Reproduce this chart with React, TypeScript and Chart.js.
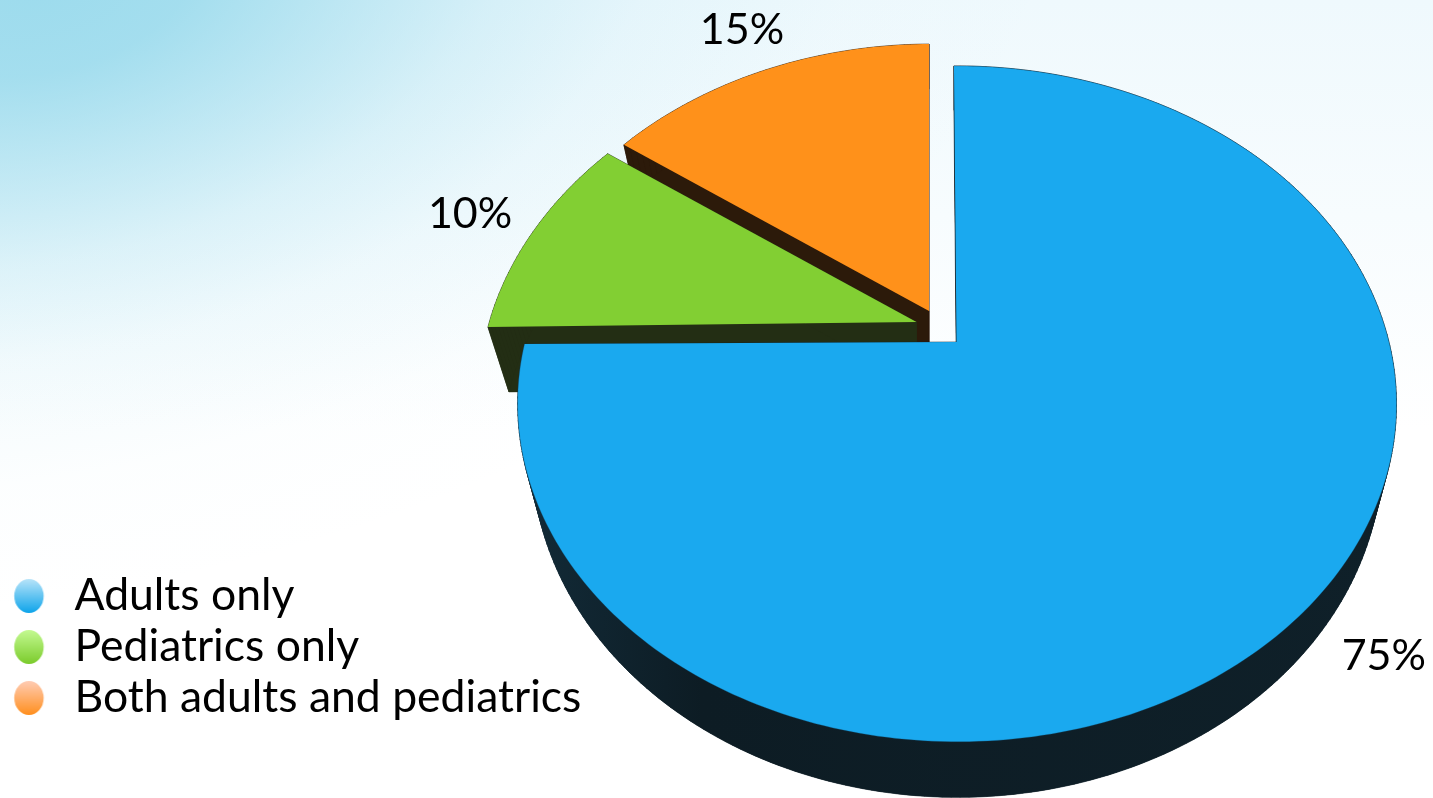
import React, { useEffect, useRef } from "react";
import { Chart, registerables } from "chart.js";

Chart.register(...registerables);

const categories = ["Adults only", "Pediatrics only", "Both adults and pediatrics"];
const shares = [75, 10, 15];
const topColors = ["#1aa9ef", "#82cf33", "#ff911a"];
const wallColors = ["#0e1f28", "#232e14", "#2c1a0a"];
const glossColors = [["#b8e4f9", "#0ea4ea"], ["#c4fa92", "#7bcb2c"], ["#ffccb4", "#ff8f1e"]];

// exploded slices: image-space shift, foreshortening, shear and wall depth
const sliceShiftX = [0, -40, -27.5];
const sliceShiftY = [0, -20, -31];
const sliceScale = [1, 0.992, 0.967];
const sliceLowScale = [1, 0.975, 0.965];
const sliceSkew = [0, 11, 3];
const sliceTilt = [0, -3, 0];
const sliceDepth = [49, 65, 49];
const labelNudgeX = [74, -63, -24];
const labelNudgeY = [50, -18, -40];

// projective view of the pie's top face and of its lower face
const FONT = "Lato";
const top = { ax: 956.5, ay: 342, rx: 432, ry: 326.6, skew: -3, tilt: -2, k: 0.183 };
const low = { ax: 956.5, ay: 0, rx: 418, ry: 332, skew: -3, tilt: -2, k: 0.183 };

type P = [number, number];

function project(plane: typeof top, dx: number, dy: number, ay: number, skew = 0, tilt = 0): P {
  const w = 1 + plane.k * dy;
  return [
    plane.ax + (plane.rx * dx + (plane.skew + skew) * dy) / w,
    ay + ((plane.tilt + tilt) * dx - plane.ry * dy) / w,
  ];
}

function outline(start: number, end: number): P[] {
  const pts: P[] = [[0, 0]];
  const n = Math.max(8, Math.ceil(((end - start) / (2 * Math.PI)) * 360));
  for (let i = 0; i <= n; i++) {
    const a = start + ((end - start) * i) / n;
    pts.push([Math.cos(a), -Math.sin(a)]);
  }
  return pts;
}

function trace(ctx: CanvasRenderingContext2D, pts: P[]) {
  ctx.beginPath();
  pts.forEach((p, i) => (i ? ctx.lineTo(p[0], p[1]) : ctx.moveTo(p[0], p[1])));
  ctx.closePath();
}

function topPoint(i: number, d: P): P {
  const p = project(top, d[0], d[1], top.ay, sliceSkew[i], sliceTilt[i]);
  return [
    top.ax + (p[0] - top.ax) * sliceScale[i] + sliceShiftX[i],
    top.ay + (p[1] - top.ay) * sliceScale[i] + sliceShiftY[i],
  ];
}

function lowPoint(i: number, d: P): P {
  const p = project(low, d[0], d[1], 0, sliceSkew[i], sliceTilt[i]);
  return [
    low.ax + (p[0] - low.ax) * sliceLowScale[i] + sliceShiftX[i],
    p[1] * sliceLowScale[i] + top.ay + sliceShiftY[i] + sliceDepth[i],
  ];
}

function gloss(colors: string[]) {
  const c = document.createElement("canvas");
  c.width = 46;
  c.height = 34;
  const g = c.getContext("2d")!;
  const grad = g.createLinearGradient(0, 0, 0, 34);
  grad.addColorStop(0, colors[0]);
  grad.addColorStop(1, colors[1]);
  g.fillStyle = grad;
  g.beginPath();
  g.ellipse(22.6, 17, 14.7, 17, 0, 0, Math.PI * 2);
  g.fill();
  return c;
}

const backdrop = {
  id: "backdrop",
  beforeDraw(chart: Chart) {
    const { ctx, width, height } = chart;
    ctx.save();
    const base = ctx.createLinearGradient(0, 0, 0, 430);
    base.addColorStop(0, "#eff9fd");
    base.addColorStop(1, "#ffffff");
    ctx.fillStyle = base;
    ctx.fillRect(0, 0, width, height);
    ctx.translate(40, -20);
    ctx.rotate(-0.2);
    ctx.scale(1050, 620);
    const g = ctx.createRadialGradient(0, 0, 0, 0, 0, 1);
    g.addColorStop(0, "rgba(142,214,234,0.85)");
    g.addColorStop(0.15, "rgba(142,214,234,0.78)");
    g.addColorStop(0.3, "rgba(142,214,234,0.52)");
    g.addColorStop(0.45, "rgba(142,214,234,0.27)");
    g.addColorStop(0.6, "rgba(142,214,234,0.11)");
    g.addColorStop(0.8, "rgba(142,214,234,0.025)");
    g.addColorStop(1, "rgba(142,214,234,0)");
    ctx.fillStyle = g;
    ctx.fillRect(-3, -3, 6, 6);
    ctx.restore();
  },
};

const pie3d = {
  id: "pie3d",
  beforeDatasetsDraw(chart: Chart) {
    const { ctx } = chart;
    const arcs = chart.getDatasetMeta(0).data as any[];
    ctx.save();
    [2, 1, 0].forEach((i) => {
      const shape = outline(arcs[i].startAngle, arcs[i].endAngle);
      const upper = shape.map((d) => topPoint(i, d));
      const lower = shape.map((d) => lowPoint(i, d));
      let wall: string | CanvasGradient = wallColors[i];
      if (i === 0) {
        const g = ctx.createLinearGradient(530, 0, 1390, 0);
        g.addColorStop(0, "#122a37");
        g.addColorStop(0.2, "#0d1c24");
        g.addColorStop(1, "#0f2029");
        wall = g;
      }
      ctx.fillStyle = wall;
      ctx.strokeStyle = wall;
      ctx.lineWidth = 0.6;
      trace(ctx, lower);
      ctx.fill();
      upper.forEach((p, j) => {
        const n = (j + 1) % upper.length;
        trace(ctx, [p, upper[n], lower[n], lower[j]]);
        ctx.fill();
        ctx.stroke();
      });
      ctx.fillStyle = topColors[i];
      trace(ctx, upper);
      ctx.fill();
      if (i === 0) {
        ctx.strokeStyle = "rgba(16,70,100,0.3)";
        ctx.lineWidth = 1;
        ctx.beginPath();
        upper.slice(1).forEach((p, j) => (j ? ctx.lineTo(p[0], p[1]) : ctx.moveTo(p[0], p[1])));
        ctx.stroke();
      }
    });
    ctx.restore();
    return false;
  },
};

const percentLabels = {
  id: "percentLabels",
  afterDraw(chart: Chart) {
    const { ctx } = chart;
    const arcs = chart.getDatasetMeta(0).data as any[];
    ctx.save();
    ctx.font = `43px ${FONT}`;
    ctx.fillStyle = "#000000";
    ctx.textAlign = "center";
    ctx.textBaseline = "middle";
    arcs.forEach((arc, i) => {
      const mid = (arc.startAngle + arc.endAngle) / 2;
      const p = topPoint(i, [Math.cos(mid), -Math.sin(mid)]);
      ctx.fillText(`${shares[i]}%`, p[0] + labelNudgeX[i], p[1] + labelNudgeY[i]);
    });
    ctx.restore();
  },
};

export default function App() {
  const ref = useRef<HTMLCanvasElement>(null);
  useEffect(() => {
    const markers = glossColors.map(gloss);
    const chart = new Chart(ref.current!, {
      type: "pie",
      data: {
        labels: categories,
        datasets: [{ data: shares, backgroundColor: topColors, borderWidth: 0 }],
      },
      options: {
        responsive: false,
        animation: false,
        layout: { padding: { bottom: 71.25 } },
        plugins: {
          tooltip: { enabled: false },
          legend: {
            position: "left",
            align: "end",
            labels: {
              usePointStyle: true,
              pointStyleWidth: 45.75,
              padding: 6.5,
              color: "#000000",
              font: { family: FONT, size: 44.5 },
              generateLabels: () =>
                categories.map((text, i) => ({
                  text,
                  index: i,
                  pointStyle: markers[i],
                  fillStyle: topColors[i],
                  strokeStyle: topColors[i],
                  lineWidth: 0,
                  hidden: false,
                })),
            },
          },
        },
      },
      plugins: [backdrop, pie3d, percentLabels],
    } as any);
    return () => chart.destroy();
  }, []);
  return (
    <div style={{ position: "fixed", left: 0, top: 0, width: 1433, height: 798, overflow: "hidden" }}>
      <canvas ref={ref} width={1433} height={798} style={{ display: "block" }} />
    </div>
  );
}
